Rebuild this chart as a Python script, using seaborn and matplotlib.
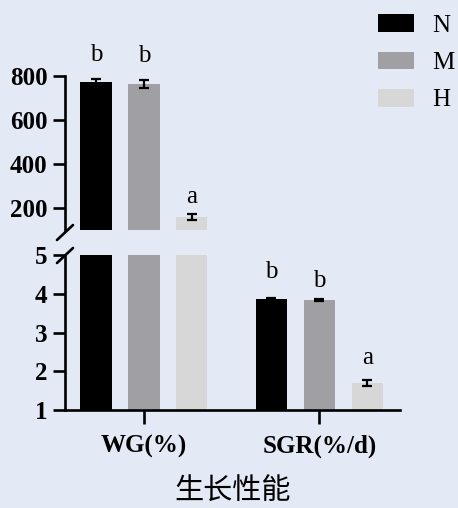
import matplotlib
matplotlib.use("Agg")
import matplotlib.pyplot as plt
import seaborn as sns
import pandas as pd

# data
categories = ["WG(%)", "SGR(%/d)"]
groups = ["N", "M", "H"]
wg_mean = [773, 764, 160]
wg_err = [15, 18, 14]
wg_letters = ["b", "b", "a"]
sgr_mean = [3.86, 3.84, 1.70]
sgr_err = [0.03, 0.03, 0.08]
sgr_letters = ["b", "b", "a"]

colors = ["#000000", "#a0a0a4", "#d7d7d7"]
bg = "#e3e9f5"
# vertical gap (points) between error bar and its letter
letter_pad = {"WG(%)": [9, 9, 4], "SGR(%/d)": [11, 5, 8]}

rows = []
for g, m, e, l in zip(groups, wg_mean, wg_err, wg_letters):
    rows.append({"cat": categories[0], "group": g, "value": m, "err": e, "letter": l})
for g, m, e, l in zip(groups, sgr_mean, sgr_err, sgr_letters):
    rows.append({"cat": categories[1], "group": g, "value": m, "err": e, "letter": l})
df = pd.DataFrame(rows)

sns.set_style("ticks")
plt.rcParams["font.family"] = ["Liberation Serif", "DejaVu Serif"]
plt.rcParams.update({
    "axes.linewidth": 1.9,
    "axes.edgecolor": "black",
    "axes.labelcolor": "black",
    "text.color": "black",
    "xtick.color": "black",
    "ytick.color": "black",
    "xtick.labelcolor": "black",
    "ytick.labelcolor": "black",
})

W, H = 458, 508
fig = plt.figure(figsize=(W / 100, H / 100), dpi=100, facecolor=bg)
ax_top = fig.add_axes([65 / W, (H - 230) / H, 335 / W, 154 / H], facecolor=bg)
ax_bot = fig.add_axes([65 / W, (H - 410) / H, 335 / W, 155 / H], facecolor=bg)

bar_sets = {}
for ax in (ax_top, ax_bot):
    sns.barplot(data=df, x="cat", y="value", hue="group", order=categories,
                hue_order=groups, palette=colors, errorbar=None, width=0.82,
                gap=0.35, saturation=1, legend=False, linewidth=0, ax=ax)
    ax.set_xlim(-0.45, 1.46)
    ax.set_xlabel("")
    ax.set_ylabel("")
    for spine in ["top", "right"]:
        ax.spines[spine].set_visible(False)
    ax.tick_params(axis="both", length=9, width=1.9, labelsize=18)

    # error bars + letters from the bar containers
    conts = list(ax.containers)
    bar_sets[ax] = conts
    for gi, cont in enumerate(conts):
        for ci, bar in enumerate(cont):
            row = df[(df["cat"] == categories[ci]) & (df["group"] == groups[gi])].iloc[0]
            xc = bar.get_x() + bar.get_width() / 2
            ax.errorbar(xc, row["value"], yerr=row["err"], fmt="none",
                        ecolor="black", elinewidth=1.6, capsize=3.3,
                        capthick=1.6)
            in_top = row["value"] > 5
            if (ax is ax_top) == in_top:
                ax.annotate(row["letter"], (xc, row["value"] + row["err"]),
                            xytext=(0, letter_pad[categories[ci]][gi]),
                            textcoords="offset points",
                            ha="center", va="bottom", fontsize=18)

ax_top.set_ylim(100, 800)
ax_top.set_yticks([200, 400, 600, 800])
ax_top.set_yticklabels(["200", "400", "600", "800"], fontweight="bold")
ax_top.spines["bottom"].set_visible(False)
ax_top.tick_params(axis="x", bottom=False, labelbottom=False)

ax_bot.set_ylim(1, 5)
ax_bot.set_yticks([1, 2, 3, 4, 5])
ax_bot.set_yticklabels(["1", "2", "3", "4", "5"], fontweight="bold")
ax_bot.set_xticks([0, 1])
ax_bot.set_xticklabels(categories, fontweight="bold", fontsize=18)
ax_bot.tick_params(axis="x", length=10, pad=8)
ax_bot.set_xlabel("生长性能", family=["Noto Sans CJK SC", "DejaVu Sans"],
                  fontsize=21, fontweight="medium", color="black", labelpad=13)

# axis break marks
aw, ht, hb = 335.0, 154.0, 155.0
ax_top.plot([-8 / aw, 8 / aw], [-10 / ht, 5 / ht], color="black", lw=1.9,
            transform=ax_top.transAxes, clip_on=False)
ax_bot.plot([-8 / aw, 8 / aw], [1 - 8 / hb, 1 + 7 / hb], color="black", lw=1.9,
            transform=ax_bot.transAxes, clip_on=False)

leg = fig.legend([c[0] for c in bar_sets[ax_top]], groups, loc="upper left",
                 bbox_to_anchor=(378 / W, 1 - 14 / H), frameon=False,
                 fontsize=18, handlelength=1.45, handleheight=0.7,
                 handletextpad=0.7, labelspacing=0.6, borderpad=0,
                 borderaxespad=0)

fig.savefig("out.png", dpi=100, facecolor=bg)
